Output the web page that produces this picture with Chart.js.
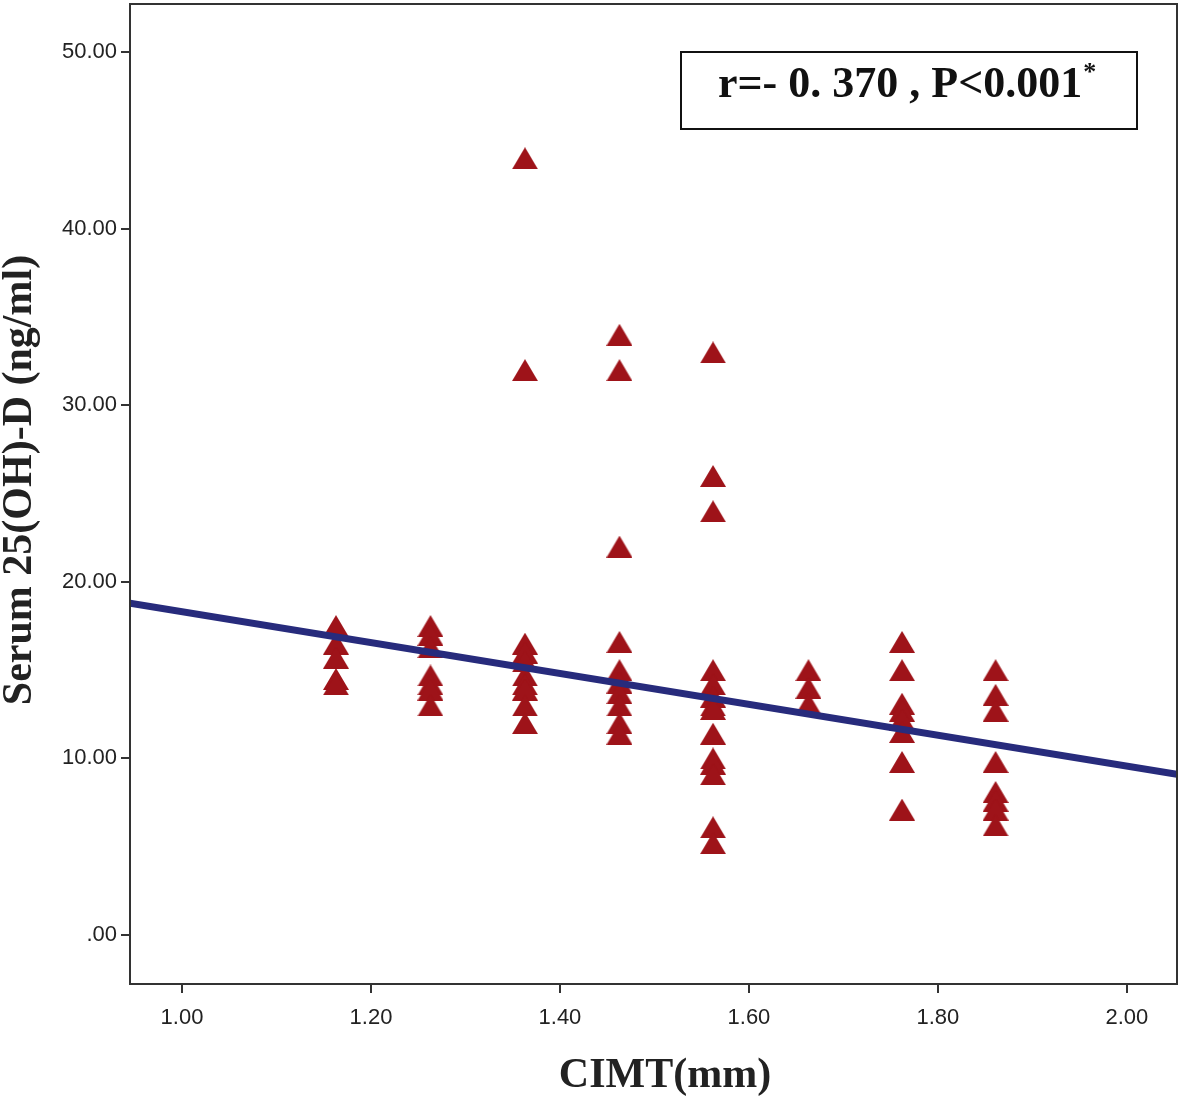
<!DOCTYPE html>
<html>
<head>
<meta charset="utf-8">
<script src="https://cdn.jsdelivr.net/npm/chart.js@4/dist/chart.umd.min.js"></script>
<style>
  body { margin: 0; background: #fff; }
  #wrap { width: 1181px; height: 1098px; position: relative; }
</style>
</head>
<body>
<div id="wrap"><canvas id="scatter"></canvas></div>
<script>
// CIMT (mm) groups and serum 25(OH)-D (ng/ml)
const cimtGroups = [1.163, 1.263, 1.363, 1.463, 1.562, 1.663, 1.762, 1.861];
const vitD = [
  [17.5, 16.5, 15.7, 14.5, 14.2],
  [17.5, 17.0, 16.3, 14.7, 14.2, 13.9, 13.0],
  [44, 32, 16.5, 16.0, 15.5, 14.7, 14.2, 13.9, 13.0, 12.0],
  [34, 32, 22, 16.6, 15.0, 14.3, 13.7, 13.0, 12.0, 11.4],
  [33, 26, 24, 15.0, 14.2, 13.5, 13.0, 12.8, 11.4, 10.0, 9.7, 9.1, 6.1, 5.2],
  [15.0, 14.0, 13.1],
  [16.6, 15.0, 13.1, 12.7, 12.2, 11.5, 9.8, 7.1],
  [15.0, 13.6, 12.7, 9.8, 8.1, 7.6, 7.1, 6.2]
];
// fit line end points (axis edges)
const fitX = [0.945, 2.053];
const fitY = [18.8, 9.1];

const xTicks = [1.0, 1.2, 1.4, 1.6, 1.8, 2.0];
const yTicks = [0, 10, 20, 30, 40, 50];

const points = [];
cimtGroups.forEach(function (x, i) {
  vitD[i].forEach(function (y) { points.push({ x: x, y: y }); });
});

// SPSS style triangle marker, centred on its box
const tri = document.createElement('canvas');
tri.width = 26; tri.height = 22;
const tctx = tri.getContext('2d');
tctx.fillStyle = '#9e1319';
tctx.beginPath();
tctx.moveTo(13, 0); tctx.lineTo(26, 22); tctx.lineTo(0, 22);
tctx.closePath();
tctx.fill();

const serif = '"Liberation Serif", "Times New Roman", serif';

const frame = {
  id: 'frame',
  afterDatasetsDraw(chart) {
    const ctx = chart.ctx, a = chart.chartArea;
    ctx.save();
    ctx.strokeStyle = '#333';
    ctx.lineWidth = 2;
    ctx.strokeRect(a.left, a.top, a.right - a.left, a.bottom - a.top);
    // r / P box
    const bx = a.left + 551, by = a.top + 48, bw = 456, bh = 77;
    ctx.fillStyle = '#fff';
    ctx.fillRect(bx, by, bw, bh);
    ctx.strokeStyle = '#111';
    ctx.strokeRect(bx, by, bw, bh);
    ctx.fillStyle = '#111';
    ctx.font = 'bold 44px ' + serif;
    ctx.textBaseline = 'alphabetic';
    const txt = 'r=- 0. 370 , P<0.001';
    ctx.fillText(txt, bx + 37, by + 45);
    const w = ctx.measureText(txt).width;
    ctx.font = 'bold 26px ' + serif;
    ctx.fillText('*', bx + 37 + w + 1, by + 28);

    // axis titles
    ctx.fillStyle = '#222';
    ctx.font = 'bold 42px ' + serif;
    ctx.textAlign = 'center';
    ctx.textBaseline = 'middle';
    ctx.fillText('CIMT(mm)', 665, 1076);
    ctx.translate(20, 480);
    ctx.rotate(-Math.PI / 2);
    ctx.fillText('Serum 25(OH)-D (ng/ml)', 0, 0);
    ctx.restore();
  }
};

new Chart(document.getElementById('scatter'), {
  type: 'scatter',
  data: {
    datasets: [{
      data: points,
      pointStyle: tri,
      pointRadius: 13,
      pointHoverRadius: 13,
      order: 2
    }, {
      type: 'line',
      data: fitX.map(function (x, i) { return { x: x, y: fitY[i] }; }),
      borderColor: '#272b7c',
      borderWidth: 7,
      pointRadius: 0,
      fill: false,
      order: 1
    }]
  },
  options: {
    responsive: true,
    maintainAspectRatio: false,
    animation: false,
    layout: { autoPadding: false, padding: { top: 4, right: 4, left: 0, bottom: 0 } },
    plugins: { legend: { display: false }, tooltip: { enabled: false } },
    scales: {
      x: {
        type: 'linear',
        min: 0.945,
        max: 2.053,
        afterBuildTicks: function (s) { s.ticks = xTicks.map(function (v) { return { value: v }; }); },
        afterFit: function (s) { s.height = 114; s.paddingLeft = 0; s.paddingRight = 0; },
        grid: { drawOnChartArea: false, color: '#333', lineWidth: 2, tickLength: 9 },
        border: { color: '#333', width: 2 },
        ticks: {
          color: '#222',
          font: { family: '"Liberation Sans", Arial, sans-serif', size: 22 },
          padding: 12,
          callback: function (v) { return v.toFixed(2); }
        }
      },
      y: {
        type: 'linear',
        min: -2.78,
        max: 52.74,
        afterBuildTicks: function (s) { s.ticks = yTicks.map(function (v) { return { value: v }; }); },
        afterFit: function (s) { s.width = 130; s.paddingTop = 0; s.paddingBottom = 0; },
        grid: { drawOnChartArea: false, color: '#333', lineWidth: 2, tickLength: 9 },
        border: { color: '#333', width: 2 },
        ticks: {
          color: '#222',
          font: { family: '"Liberation Sans", Arial, sans-serif', size: 22 },
          padding: 4,
          callback: function (v) { return v === 0 ? '.00' : v.toFixed(2); }
        }
      }
    }
  },
  plugins: [frame]
});
</script>
</body>
</html>
